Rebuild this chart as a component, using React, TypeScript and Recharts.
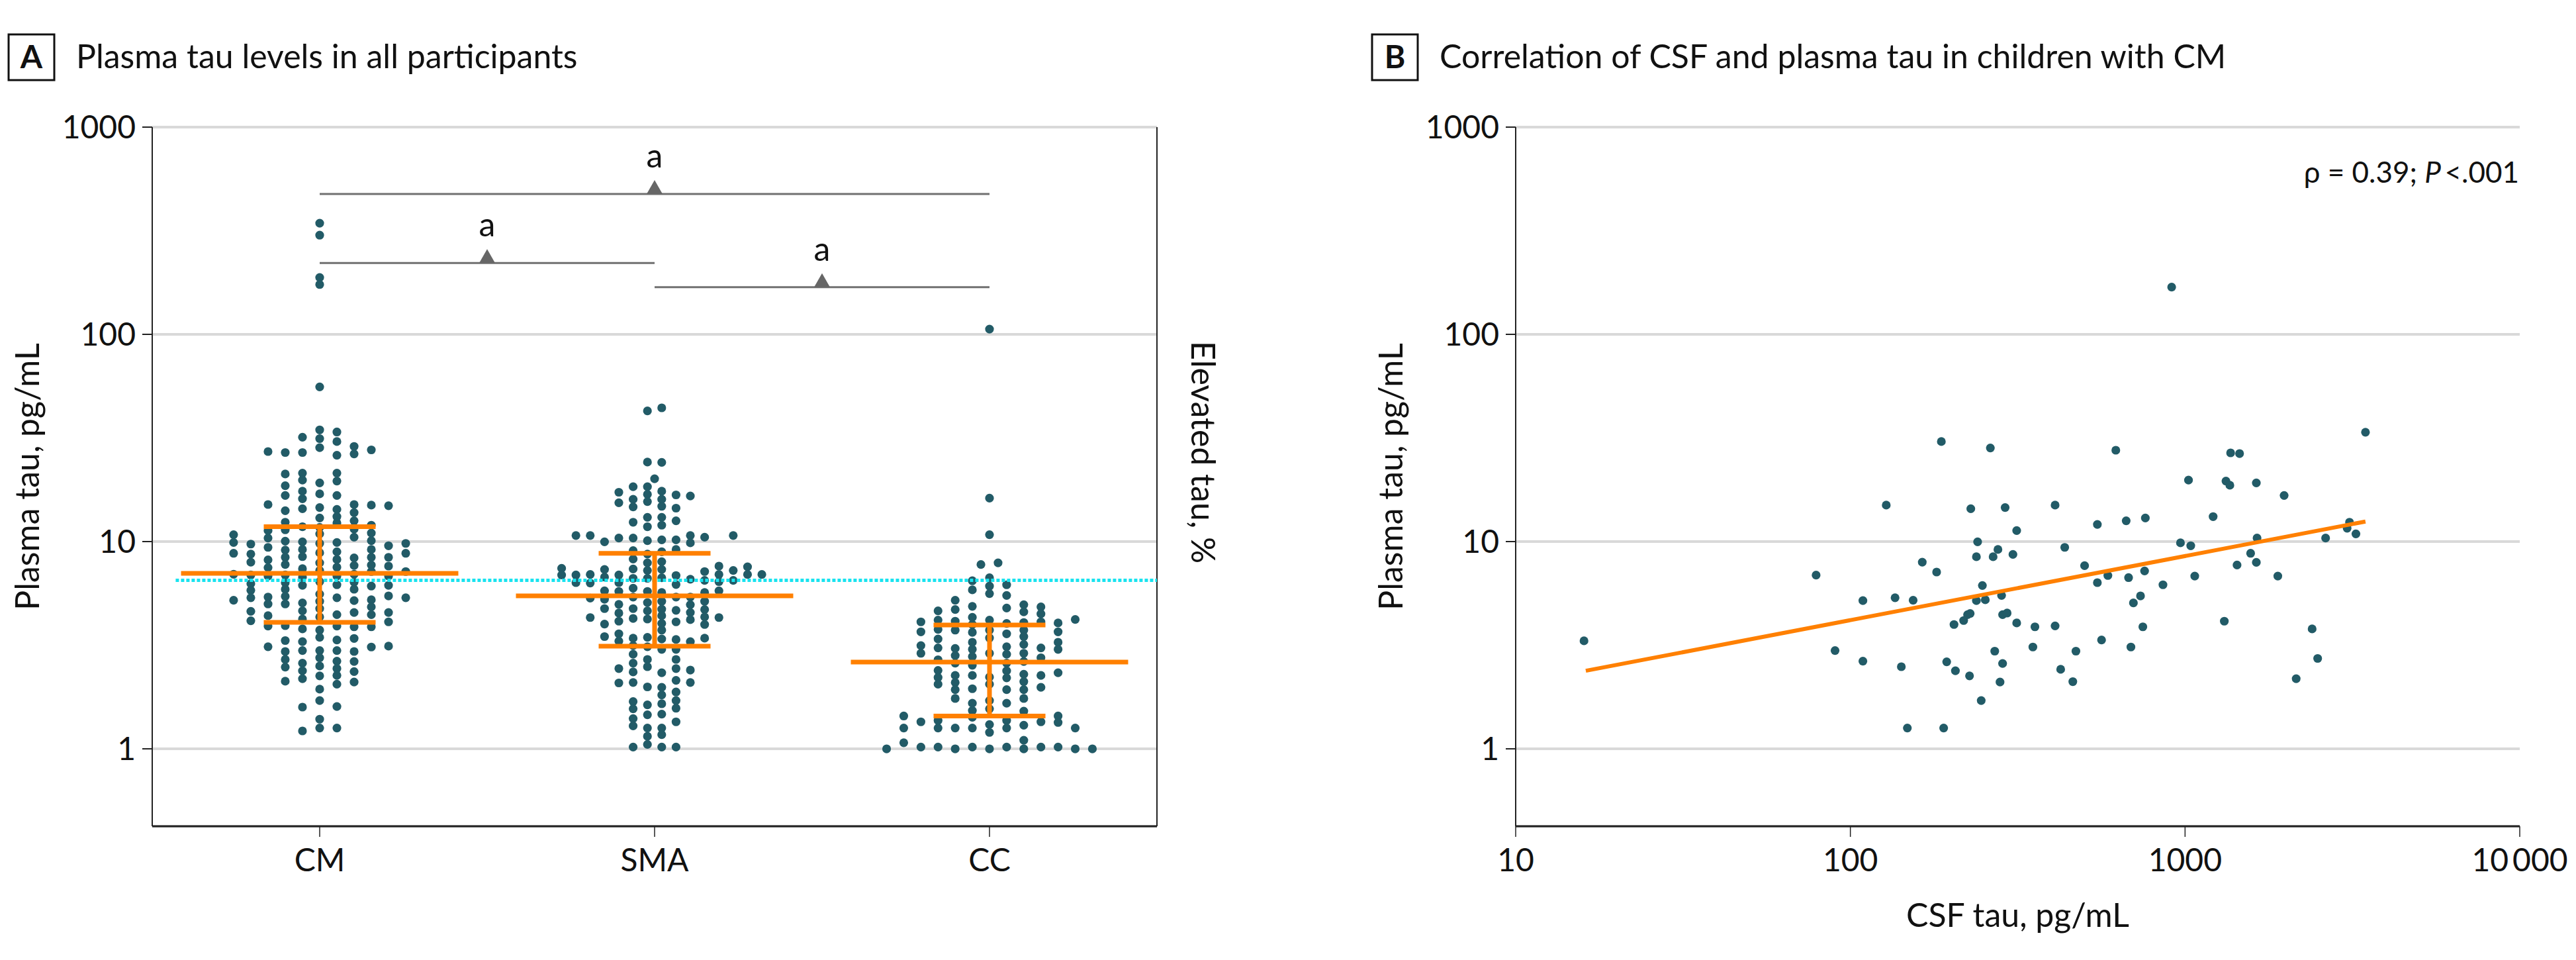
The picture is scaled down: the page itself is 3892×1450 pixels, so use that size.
import { ScatterChart, Scatter, XAxis, YAxis, CartesianGrid } from "recharts";

const FONT = "Lato, 'Liberation Sans', sans-serif";
const DOT = "#225b67";
const ORANGE = "#ff8000";
const CYAN = "#19e3ef";
const INK = "#111";

// ---- Panel A: plasma tau by group (beeswarm column, value) ----
const groups = ["CM", "SMA", "CC"];
const colStep = [0.0514, 0.0427, 0.0512];
const medians = [7.03, 5.47, 2.62];
const q1 = [4.08, 3.13, 1.44];
const q3 = [11.8, 8.78, 3.96];
const elevatedCut = 6.5;
const brackets = [
  { from: 1, to: 3, p: 476 },
  { from: 1, to: 2, p: 221 },
  { from: 2, to: 3, p: 169 },
];

const cmTau: [number, number][] = [
  [0, 344], [0, 301], [0, 188], [0, 174], [0, 55.8],
  [0, 34.6], [0, 31.4], [0, 28.4], [1, 33.8], [1, 30.4], [1, 26.1], [-1, 31.9], [-1, 26.9],
  [-2, 26.9], [-3, 27.2], [2, 28.8], [2, 26.5], [3, 27.7],
  [-2, 21.2], [-2, 18.6], [-2, 16.7], [-2, 14.1], [-2, 12.4], [-2, 11.4],
  [-1, 21.4], [-1, 19.8], [-1, 17.5], [-1, 16.1], [-1, 14.4], [-1, 11.8],
  [0, 19.2], [0, 17.0], [0, 14.6], [0, 13.0], [0, 11.7],
  [1, 21.4], [1, 19.6], [1, 16.7], [1, 14.3], [1, 13.2], [1, 12.3],
  [2, 15.1], [2, 13.8], [2, 12.6], [2, 11.5],
  [3, 15.0], [3, 12.0], [4, 14.9], [-3, 15.1], [-3, 11.3],
  [-5, 10.8], [-5, 9.9], [-5, 8.78], [-5, 6.96], [-5, 5.21],
  [-4, 9.73], [-4, 8.71], [-4, 7.96], [-4, 6.9], [-4, 6.26], [-4, 5.82], [-4, 5.36], [-4, 4.61], [-4, 4.15],
  [-3, 10.4], [-3, 9.38], [-3, 8.16], [-3, 7.49], [-3, 6.82], [-3, 5.4], [-3, 5.0], [-3, 4.39], [-3, 3.91], [-3, 3.11],
  [-2, 10.05], [-2, 9.1], [-2, 8.4], [-2, 7.75], [-2, 6.9], [-2, 6.34], [-2, 5.89], [-2, 5.44], [-2, 5.0],
  [-2, 3.93], [-2, 3.33], [-2, 2.95], [-2, 2.7], [-2, 2.48], [-2, 2.12],
  [-1, 9.98], [-1, 9.16], [-1, 8.46], [-1, 7.4], [-1, 6.74], [-1, 6.15], [-1, 5.06], [-1, 4.63], [-1, 4.23],
  [-1, 3.79], [-1, 3.29], [-1, 2.98], [-1, 2.59], [-1, 2.38], [-1, 2.18], [-1, 1.59], [-1, 1.22],
  [0, 10.9], [0, 9.8], [0, 8.83], [0, 7.9], [0, 7.26], [0, 6.41], [0, 5.58], [0, 5.15], [0, 4.75], [0, 4.33],
  [0, 3.74], [0, 3.45], [0, 2.98], [0, 2.75], [0, 2.51], [0, 2.25], [0, 1.94], [0, 1.71], [0, 1.39], [0, 1.26],
  [1, 9.9], [1, 8.93], [1, 8.2], [1, 7.52], [1, 6.82], [1, 6.19], [1, 5.36], [1, 4.44], [1, 3.91],
  [1, 3.35], [1, 2.98], [1, 2.65], [1, 2.44], [1, 2.26], [1, 2.05], [1, 1.6], [1, 1.26],
  [2, 10.5], [2, 8.34], [2, 7.67], [2, 6.96], [2, 6.37], [2, 5.89], [2, 5.19], [2, 4.55], [2, 3.88],
  [2, 3.41], [2, 2.95], [2, 2.64], [2, 2.36], [2, 2.1],
  [3, 11.0], [3, 10.1], [3, 9.16], [3, 8.4], [3, 7.71], [3, 7.17], [3, 6.1], [3, 5.24], [3, 4.84], [3, 4.44], [3, 3.88], [3, 3.1],
  [4, 9.55], [4, 8.4], [4, 7.62], [4, 6.82], [4, 6.15], [4, 5.47], [4, 4.55], [4, 4.1], [4, 3.13],
  [5, 9.8], [5, 8.78], [5, 7.17], [5, 5.36],
];

const smaTau: [number, number][] = [
  [-0.5, 42.7], [0.5, 44.2], [-0.5, 24.2], [0.5, 24.1], [0, 20.1],
  [-1.5, 18.4], [-0.5, 18.4], [-0.5, 16.9], [-0.5, 15.6], [0.5, 17.5], [0.5, 16.0], [0.5, 14.8],
  [-2.5, 17.3], [-2.5, 15.4], [-1.5, 16.0], [-1.5, 14.7], [1.5, 16.8], [1.5, 14.5], [2.5, 16.6],
  [-1.5, 12.4], [-0.5, 13.1], [-0.5, 11.8], [0.5, 13.1], [0.5, 12.0], [1.5, 12.6],
  [-5.5, 10.7], [-4.5, 10.7], [-3.5, 9.98], [-2.5, 10.4], [-1.5, 10.4], [-0.5, 10.1], [0.5, 10.2], [1.5, 10.2],
  [2.5, 10.7], [2.5, 9.86], [3.5, 10.5], [5.5, 10.7],
  [-1.5, 9.05], [-1.5, 8.24], [-1.5, 7.38], [-1.5, 6.65],
  [-0.5, 8.71], [-0.5, 7.9], [-0.5, 7.26], [-0.5, 6.65],
  [0.5, 8.93], [0.5, 8.0], [0.5, 7.34], [0.5, 6.69],
  [1.5, 9.16], [1.5, 6.86],
  [-6.5, 7.43], [-6.5, 6.9], [-5.5, 6.9], [-4.5, 6.94], [-3.5, 7.34], [-3.5, 6.74], [-2.5, 6.9],
  [3.5, 7.17], [4.5, 7.62], [4.5, 6.94], [5.5, 7.26], [6.5, 7.56], [6.5, 6.94], [7.5, 6.94], [2.5, 6.58],
  [-5.5, 6.34], [-4.5, 6.31], [-2.5, 6.34], [-1.5, 5.96], [1.5, 6.21], [3.5, 6.5], [4.5, 6.41], [4.5, 5.79], [5.5, 6.5],
  [-4.5, 5.34], [-4.5, 4.3],
  [-3.5, 5.79], [-3.5, 5.27], [-3.5, 4.75], [-3.5, 4.0], [-3.5, 3.48],
  [-2.5, 5.75], [-2.5, 4.98], [-2.5, 4.52], [-2.5, 4.13], [-2.5, 3.59], [-2.5, 3.31], [-2.5, 2.44], [-2.5, 2.08],
  [-1.5, 5.4], [-1.5, 4.75], [-1.5, 4.26], [-1.5, 3.42], [-1.5, 3.15], [-1.5, 2.86], [-1.5, 2.59], [-1.5, 2.35],
  [-1.5, 2.09], [-1.5, 1.69], [-1.5, 1.56], [-1.5, 1.4], [-1.5, 1.29], [-1.5, 1.02],
  [-0.5, 5.75], [-0.5, 5.08], [-0.5, 4.63], [-0.5, 4.23], [-0.5, 3.45], [-0.5, 3.11], [-0.5, 2.7], [-0.5, 2.49],
  [-0.5, 1.99], [-0.5, 1.63], [-0.5, 1.46], [-0.5, 1.26], [-0.5, 1.15], [-0.5, 1.05],
  [0.5, 5.68], [0.5, 5.15], [0.5, 4.72], [0.5, 4.39], [0.5, 4.03], [0.5, 3.74], [0.5, 3.39], [0.5, 3.02],
  [0.5, 2.33], [0.5, 1.98], [0.5, 1.82], [0.5, 1.65], [0.5, 1.47], [0.5, 1.26], [0.5, 1.17], [0.5, 1.02],
  [1.5, 5.4], [1.5, 4.66], [1.5, 4.1], [1.5, 3.37], [1.5, 3.02], [1.5, 2.7], [1.5, 2.44], [1.5, 2.14],
  [1.5, 1.88], [1.5, 1.71], [1.5, 1.57], [1.5, 1.35], [1.5, 1.02],
  [2.5, 5.4], [2.5, 4.96], [2.5, 4.55], [2.5, 4.2], [2.5, 3.29], [2.5, 2.4], [2.5, 2.09],
  [3.5, 5.68], [3.5, 5.15], [3.5, 4.7], [3.5, 4.33], [3.5, 3.98], [3.5, 3.42],
  [4.5, 4.3],
];

const ccTau: [number, number][] = [
  [0, 106], [0, 16.2], [0, 10.8], [-0.5, 7.75], [0.5, 7.9], [0, 6.69], [0, 6.1], [0, 5.61],
  [0, 4.18], [0, 3.74], [0, 3.43], [0, 2.89], [0, 2.22], [0, 2.05], [0, 1.71], [0, 1.56], [0, 1.31], [0, 1.2], [0, 1.0],
  [-1, 6.47], [-1, 5.85], [-1, 4.87], [-1, 4.31], [-1, 3.98], [-1, 3.65], [-1, 3.27], [-1, 3.02], [-1, 2.79],
  [-1, 2.53], [-1, 2.26], [-1, 1.95], [-1, 1.66], [-1, 1.53], [-1, 1.42], [-1, 1.26], [-1, 1.02],
  [1, 6.19], [1, 5.5], [1, 4.78], [1, 4.03], [1, 3.59], [1, 3.11], [1, 2.86], [1, 2.59], [1, 2.38],
  [1, 2.2], [1, 1.93], [1, 1.66], [1, 1.37], [1, 1.26], [1, 1.02],
  [-2, 5.21], [-2, 4.7], [-2, 4.13], [-2, 3.74], [-2, 3.05], [-2, 2.82], [-2, 2.59], [-2, 2.26], [-2, 2.09],
  [-2, 1.93], [-2, 1.75], [-2, 1.26], [-2, 1.0],
  [-3, 4.63], [-3, 4.18], [-3, 3.77], [-3, 3.39], [-3, 3.07], [-3, 2.69], [-3, 2.39], [-3, 2.21], [-3, 2.05],
  [-3, 1.37], [-3, 1.26], [-3, 1.02],
  [-4, 4.1], [-4, 3.67], [-4, 3.15], [-4, 2.89], [-4, 1.35], [-4, 1.02],
  [-5, 1.44], [-5, 1.26], [-5, 1.07], [-6, 1.0],
  [2, 4.96], [2, 4.58], [2, 4.07], [2, 3.74], [2, 3.48], [2, 3.19], [2, 2.89], [2, 2.64], [2, 2.29],
  [2, 2.11], [2, 1.93], [2, 1.75], [2, 1.52], [2, 1.3], [2, 1.1], [2, 1.0],
  [3, 4.84], [3, 4.48], [3, 4.1], [3, 3.07], [3, 2.75], [3, 2.26], [3, 1.98], [3, 1.35], [3, 1.02],
  [4, 4.05], [4, 3.67], [4, 3.27], [4, 3.02], [4, 2.33], [4, 1.44], [4, 1.34], [4, 1.02],
  [5, 4.21], [5, 1.26], [5, 1.0], [6, 1.0],
];

// ---- Panel B: CSF tau vs plasma tau (pg/mL) ----
const csfPlasma: [number, number][] = [
  [16.0, 3.32], [79, 6.89], [90, 2.98], [109, 5.19], [109, 2.65], [128, 15.0], [136, 5.36], [142, 2.49],
  [148, 1.26], [154, 5.21], [164, 7.96], [181, 7.13], [187, 30.4], [190, 1.26], [194, 2.63], [204, 3.98],
  [206, 2.38], [218, 4.16], [224, 4.44], [227, 2.25], [228, 4.5], [229, 14.4], [238, 8.45], [240, 9.98],
  [238, 5.19], [246, 1.71], [248, 6.14], [253, 5.24], [262, 28.3], [267, 8.45], [270, 2.96], [276, 9.16],
  [280, 2.1], [283, 5.5], [285, 4.44], [285, 2.58], [290, 14.6], [294, 4.52], [306, 8.67], [314, 11.3],
  [314, 4.05], [351, 3.1], [356, 3.88], [409, 3.92], [409, 15.0], [425, 2.42], [437, 9.38], [462, 2.11],
  [472, 2.96], [501, 7.65], [547, 12.1], [547, 6.34], [563, 3.35], [588, 6.86], [621, 27.6], [667, 12.6],
  [678, 6.7], [689, 3.1], [701, 5.06], [736, 5.47], [748, 3.88], [757, 7.22], [761, 13.0], [859, 6.19],
  [912, 169], [969, 9.86], [1024, 19.8], [1040, 9.55], [1069, 6.82], [1213, 13.2], [1310, 4.13], [1325, 19.6],
  [1361, 18.7], [1368, 26.8], [1430, 7.71], [1455, 26.6], [1570, 8.78], [1633, 19.2], [1633, 7.94], [1641, 10.4],
  [1893, 6.82], [1977, 16.7], [2148, 2.18], [2397, 3.79], [2490, 2.73], [2630, 10.4], [3050, 11.6], [3100, 12.4],
  [3240, 10.9], [3460, 33.7],
];
const fitEnds: [number, number][] = [[16.2, 2.38], [3460, 12.5]];
const tauTicks = [1, 10, 100, 1000];
const csfTicks = [10, 100, 1000, 10000];

const toXY = (rows: [number, number][]) => rows.map(([x, y]) => ({ x, y }));
const swarm = (rows: [number, number][], g: number) =>
  rows.map(([k, v]) => ({ x: g + 1 + k * colStep[g], y: v }));

const Dot = (p: any) => <circle cx={p.cx} cy={p.cy} r={6.6} fill={DOT} />;
const NoDot = () => <g />;
const Marker = (p: any) => (
  <g>
    <polygon points={`${p.cx - 12},${p.cy} ${p.cx + 12},${p.cy} ${p.cx},${p.cy - 21}`} fill="#666" />
    <text x={p.cx} y={p.cy - 40} textAnchor="middle" fontSize={50} fontFamily={FONT} fill={INK}>a</text>
  </g>
);

function SideTitle({ viewBox, text, shiftX, shiftY = 0, rot }: any) {
  const x = (viewBox?.x ?? 0) + shiftX;
  const y = (viewBox?.y ?? 0) + (viewBox?.height ?? 0) / 2 + shiftY;
  return (
    <g transform={`translate(${x} ${y}) rotate(${rot})`}>
      <text x={0} y={0} textAnchor="middle" dominantBaseline="central"
        fontSize={50} fontFamily={FONT} fill={INK}>{text}</text>
    </g>
  );
}

function BottomTitle({ viewBox, text }: any) {
  const x = (viewBox?.x ?? 0) + (viewBox?.width ?? 0) / 2;
  const y = (viewBox?.y ?? 0) + 152;
  return <text x={x} y={y} textAnchor="middle" fontSize={50} fontFamily={FONT} fill={INK}>{text}</text>;
}

const tickStyle = { fontSize: 48, fill: INK, fontFamily: FONT };
const seg = (x1: number, y1: number, x2: number, y2: number) => [{ x: x1, y: y1 }, { x: x2, y: y2 }];

export default function App() {
  const swarms = [swarm(cmTau, 0), swarm(smaTau, 1), swarm(ccTau, 2)];
  const orange = groups.flatMap((_, i) => {
    const g = i + 1;
    return [
      seg(g, q1[i], g, q3[i]),
      seg(g - 0.414, medians[i], g + 0.414, medians[i]),
      seg(g - 0.167, q1[i], g + 0.167, q1[i]),
      seg(g - 0.167, q3[i], g + 0.167, q3[i]),
    ];
  });

  return (
    <div style={{ position: "absolute", left: 0, top: 0, width: 3892, height: 1450, background: "#fff" }}>
      {/* A — Plasma tau levels */}
      <div style={{ position: "absolute", left: 0, top: 0 }}>
        <ScatterChart width={1900} height={1450} margin={{ top: 192, right: 52, bottom: 102, left: 0 }}>
          <CartesianGrid vertical={false} stroke="#d9d9d9" strokeWidth={4} />
          <XAxis type="number" dataKey="x" domain={[0.5, 3.5]} ticks={[1, 2, 3]} allowDataOverflow
            tickFormatter={(v) => groups[v - 1]} height={100} tickSize={16} tickMargin={18}
            tick={tickStyle} axisLine={{ stroke: "#222", strokeWidth: 3 }} tickLine={{ stroke: "#222", strokeWidth: 1.5 }} />
          <YAxis type="number" dataKey="y" scale="log" domain={[0.423, 1000]} ticks={tauTicks} allowDataOverflow
            width={230} tickSize={15} tickMargin={10} tick={tickStyle}
            axisLine={{ stroke: "#222", strokeWidth: 2 }} tickLine={{ stroke: "#222", strokeWidth: 2 }}
            label={<SideTitle text="Plasma tau, pg/mL" shiftX={40} rot={-90} />} />
          <YAxis yAxisId="r" orientation="right" type="number" domain={[0, 1]} width={100}
            tick={false} tickLine={false} axisLine={{ stroke: "#222", strokeWidth: 2 }}
            label={<SideTitle text="Elevated tau, %" shiftX={71} shiftY={-37} rot={90} />} />
          {swarms.map((d, i) => (
            <Scatter key={groups[i]} data={d} shape={Dot} isAnimationActive={false} />
          ))}
          <Scatter data={seg(0.57, elevatedCut, 3.5, elevatedCut)} shape={NoDot} isAnimationActive={false}
            line={{ stroke: CYAN, strokeWidth: 5, strokeDasharray: "5 3" }} />
          {orange.map((d, i) => (
            <Scatter key={"o" + i} data={d} shape={NoDot} isAnimationActive={false}
              line={{ stroke: ORANGE, strokeWidth: 7 }} />
          ))}
          {brackets.map((b, i) => (
            <Scatter key={"b" + i} data={seg(b.from, b.p, b.to, b.p)} shape={NoDot} isAnimationActive={false}
              line={{ stroke: "#707070", strokeWidth: 3 }} />
          ))}
          <Scatter data={brackets.map((b) => ({ x: (b.from + b.to) / 2, y: b.p }))} shape={Marker} isAnimationActive={false} />
        </ScatterChart>
      </div>

      {/* B — CSF vs plasma tau */}
      <div style={{ position: "absolute", left: 1900, top: 0 }}>
        <ScatterChart width={1992} height={1450} margin={{ top: 192, right: 85, bottom: 102, left: 0 }}>
          <CartesianGrid vertical={false} stroke="#d9d9d9" strokeWidth={4} />
          <XAxis type="number" dataKey="x" scale="log" domain={[10, 10000]} ticks={csfTicks} allowDataOverflow
            tickFormatter={(v) => (v === 10000 ? "10\u2009000" : String(v))} height={100} tickSize={16} tickMargin={18}
            tick={tickStyle} axisLine={{ stroke: "#222", strokeWidth: 3 }} tickLine={{ stroke: "#222", strokeWidth: 1.5 }}
            label={<BottomTitle text="CSF tau, pg/mL" />} />
          <YAxis type="number" dataKey="y" scale="log" domain={[0.423, 1000]} ticks={tauTicks} allowDataOverflow
            width={390} tickSize={15} tickMargin={10} tick={tickStyle}
            axisLine={{ stroke: "#222", strokeWidth: 2 }} tickLine={{ stroke: "#222", strokeWidth: 2 }}
            label={<SideTitle text="Plasma tau, pg/mL" shiftX={200} rot={-90} />} />
          <Scatter data={toXY(csfPlasma)} shape={Dot} isAnimationActive={false} />
          <Scatter data={toXY(fitEnds)} shape={NoDot} isAnimationActive={false}
            line={{ stroke: ORANGE, strokeWidth: 6 }} />
        </ScatterChart>
      </div>

      {/* panel titles and annotation */}
      <svg width={3892} height={1450} style={{ position: "absolute", left: 0, top: 0, pointerEvents: "none" }}
        fontFamily={FONT} fill={INK}>
        <rect x={13} y={52} width={69} height={69} fill="none" stroke={INK} strokeWidth={3} />
        <text x={47.5} y={103} textAnchor="middle" fontSize={48} fontWeight={700}>A</text>
        <text x={115} y={103} fontSize={50}>Plasma tau levels in all participants</text>
        <rect x={2073} y={52} width={69} height={69} fill="none" stroke={INK} strokeWidth={3} />
        <text x={2107.5} y={103} textAnchor="middle" fontSize={48} fontWeight={700}>B</text>
        <text x={2175} y={103} fontSize={50}>Correlation of CSF and plasma tau in children with CM</text>
        <text x={3806} y={276} textAnchor="end" fontSize={44}>
          ρ = 0.39; <tspan fontStyle="italic">P</tspan>{"\u2009<.001"}
        </text>
      </svg>
    </div>
  );
}
